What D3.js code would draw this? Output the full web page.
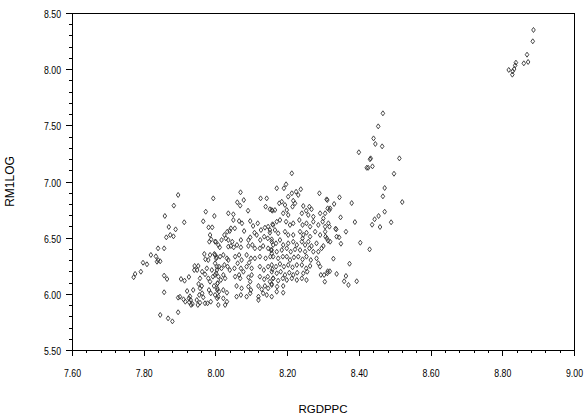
<!DOCTYPE html>
<html>
<head>
<meta charset="utf-8">
<script src="https://cdn.jsdelivr.net/npm/d3@7"></script>
<style>
html,body{margin:0;padding:0;background:#fff;}
svg{display:block;}
.tick text{font-family:"Liberation Sans",Arial,sans-serif;font-size:11px;fill:#000;}
</style>
</head>
<body>
<svg id="chart" width="585" height="420"></svg>
<script>
// RGDPPC (x) values
const rgdppc = [
8.887,8.885,8.869,8.872,8.860,8.838,8.836,8.833,8.829,8.818,8.828,
8.467,8.454,8.441,8.446,8.465,8.433,8.431,8.513,8.422,8.426,8.438,8.498,8.400,8.472,8.467,8.521,8.472,8.455,8.444,8.437,8.459,8.490,8.430,
8.310,8.331,8.346,8.320,8.313,8.380,8.306,8.349,8.318,8.337,8.335,8.364,8.389,8.307,8.314,8.338,8.345,8.350,8.404,8.329,8.374,8.313,8.319,8.338,8.364,8.359,8.371,8.394,8.305,
7.896,7.884,7.994,7.859,7.913,7.973,7.966,7.997,7.981,7.991,7.870,7.889,7.863,7.874,7.883,7.985,7.983,7.988,8.001,7.840,7.857,7.820,7.834,7.840,7.846,7.837,7.798,7.809,7.792,7.776,7.772,
7.969,7.985,7.997,8.002,7.972,7.980,7.942,7.952,7.941,7.949,7.963,7.976,7.971,8.004,7.990,8.002,7.993,7.980,7.857,7.865,7.926,7.904,7.914,7.957,7.953,7.962,7.985,7.996,8.006,8.005,
7.938,7.921,7.957,7.963,7.955,7.966,7.982,7.987,7.857,7.929,7.926,7.931,7.927,7.936,7.932,7.911,7.896,7.901,7.916,7.948,7.957,7.951,7.971,7.978,7.987,8.005,7.896,7.846,7.868,7.880,
8.070,8.061,8.079,8.069,8.091,8.036,8.050,8.050,8.066,8.074,8.126,8.143,8.140,8.152,8.159,8.097,8.118,8.105,8.127,8.138,8.147,8.159,8.043,8.054,8.033,8.040,8.080,8.025,8.029,8.017,
8.036,8.047,8.071,8.092,8.097,8.109,8.115,8.125,8.136,8.146,8.152,8.157,7.999,8.008,8.012,8.036,8.043,8.051,8.060,8.071,8.092,8.103,8.110,8.124,8.133,8.147,8.155,8.161,
7.999,8.004,8.013,8.022,8.032,8.036,8.055,8.066,8.073,8.087,8.099,8.110,8.124,8.140,8.153,8.157,7.999,8.010,8.017,8.004,8.025,8.034,8.040,8.053,8.062,8.071,8.078,8.087,8.094,8.101,
8.124,8.135,8.147,8.159,7.999,8.008,8.015,8.006,8.022,8.027,8.055,8.069,8.066,8.092,8.101,8.097,8.124,8.136,8.146,8.152,8.161,8.005,8.010,8.022,8.032,8.059,8.073,8.092,8.099,8.120,
8.129,8.138,8.147,8.157,7.999,8.008,8.022,8.032,8.059,8.071,8.087,8.097,8.120,8.133,8.143,8.008,8.027,8.120,
8.213,8.197,8.171,8.191,8.213,8.225,8.238,8.231,8.203,8.185,8.178,8.194,8.217,8.222,8.215,8.290,8.312,8.157,8.166,8.199,8.189,8.203,8.245,8.262,8.268,8.253,8.241,8.259,8.273,8.292,
8.301,8.318,8.171,8.180,8.161,8.197,8.208,8.217,8.234,8.243,8.254,8.264,8.273,8.287,8.299,8.306,8.315,8.152,8.166,8.175,8.194,8.203,8.217,8.236,8.245,8.254,8.264,8.243,8.278,8.292,
8.306,8.311,8.320,8.157,8.169,8.180,8.189,8.203,8.217,8.227,8.241,8.250,8.259,8.268,8.282,8.301,8.157,8.171,8.185,8.199,8.210,8.222,8.236,8.250,8.262,8.273,8.287,8.296,
8.161,8.175,8.188,8.199,8.208,8.219,8.231,8.243,8.254,8.266,8.282,8.287,8.157,8.169,8.180,8.191,8.203,8.215,8.227,8.241,8.253,8.264,8.292,
8.157,8.171,8.182,8.194,8.206,8.217,8.228,8.245,8.256,8.294,8.303,8.312,8.161,8.175,8.188,8.199,8.213,8.227,8.241,8.254,8.157,8.172,8.189,8.171,8.189,8.157
];
// RM1LOG (y) values, same order
const rm1log = [
8.349,8.248,8.129,8.064,8.052,8.058,8.034,8.001,7.981,7.993,7.951,
7.607,7.491,7.384,7.334,7.313,7.206,7.198,7.206,7.122,7.122,7.135,7.069,7.260,6.942,6.868,6.817,6.731,6.693,6.664,6.615,6.595,6.637,6.396,
6.841,6.800,6.859,6.761,6.761,6.808,6.717,6.681,6.598,6.574,6.580,6.553,6.639,6.509,6.473,6.509,6.503,6.446,6.455,6.313,6.268,6.201,6.201,6.177,6.159,6.112,6.079,6.112,6.108,
6.880,6.785,6.850,6.693,6.637,6.731,6.646,6.693,6.592,6.592,6.595,6.574,6.503,6.524,6.512,6.524,6.464,6.485,6.464,6.405,6.405,6.346,6.334,6.301,6.290,6.286,6.277,6.263,6.197,6.177,6.148,
6.355,6.346,6.355,6.316,6.308,6.301,6.248,6.248,6.212,6.212,6.197,6.227,6.174,6.241,6.212,6.183,6.153,6.138,6.162,6.132,6.150,6.132,6.117,6.138,6.088,6.070,6.108,6.070,6.094,6.034,
6.034,6.025,6.049,6.005,5.990,5.969,6.034,6.005,6.014,5.978,5.960,5.945,5.925,5.910,5.901,5.951,5.966,5.974,5.930,5.945,5.921,5.901,5.916,5.916,5.930,5.960,5.836,5.812,5.782,5.755,
6.904,6.815,6.835,6.785,6.740,6.717,6.708,6.657,6.648,6.628,6.850,6.850,6.776,6.753,6.740,6.648,6.628,6.604,6.568,6.589,6.598,6.619,6.583,6.583,6.553,6.559,6.559,6.524,6.494,6.479,
6.479,6.464,6.479,6.479,6.503,6.544,6.524,6.479,6.509,6.494,6.544,6.485,6.464,6.435,6.414,6.420,6.426,6.414,6.435,6.414,6.426,6.435,6.405,6.405,6.426,6.405,6.390,6.435,
6.346,6.325,6.331,6.346,6.316,6.301,6.331,6.346,6.301,6.346,6.316,6.316,6.331,6.316,6.331,6.361,6.272,6.242,6.227,6.212,6.257,6.242,6.212,6.227,6.272,6.227,6.197,6.242,6.277,6.227,
6.242,6.212,6.242,6.218,6.168,6.153,6.123,6.094,6.168,6.138,6.153,6.138,6.168,6.147,6.168,6.108,6.153,6.130,6.153,6.108,6.138,6.049,6.019,6.034,6.010,6.070,6.049,6.064,6.034,6.070,
6.040,6.070,6.049,6.088,5.990,5.975,5.960,5.930,5.975,5.990,5.975,6.005,5.975,6.005,5.990,5.901,5.901,5.945,
7.073,6.975,6.940,6.940,6.895,6.909,6.931,6.880,6.865,6.820,6.806,6.791,6.829,6.806,6.776,6.895,6.835,6.746,6.746,6.746,6.717,6.702,6.782,6.776,6.753,6.740,6.717,6.702,6.687,6.717,
6.672,6.746,6.642,6.657,6.613,6.642,6.613,6.628,6.657,6.613,6.628,6.598,6.642,6.613,6.642,6.598,6.628,6.568,6.568,6.539,6.553,6.524,6.524,6.553,6.524,6.544,6.509,6.494,6.553,6.524,
6.553,6.494,6.464,6.464,6.450,6.479,6.435,6.450,6.464,6.435,6.464,6.435,6.464,6.426,6.450,6.426,6.390,6.375,6.390,6.405,6.375,6.396,6.390,6.375,6.405,6.375,6.375,6.405,
6.331,6.316,6.331,6.331,6.301,6.325,6.331,6.307,6.331,6.301,6.316,6.272,6.257,6.242,6.266,6.242,6.257,6.236,6.257,6.257,6.227,6.248,6.242,
6.197,6.183,6.197,6.168,6.188,6.168,6.188,6.183,6.197,6.168,6.168,6.183,6.138,6.117,6.138,6.123,6.138,6.123,6.138,6.123,6.079,6.064,6.070,6.019,6.010,5.975
];
const xTicks = [7.60,7.80,8.00,8.20,8.40,8.60,8.80,9.00];
const yTicks = [5.50,6.00,6.50,7.00,7.50,8.00,8.50];
const xTitle = "RGDPPC";
const yTitle = "RM1LOG";

const svg = d3.select("#chart");
const L = 72, R = 574, T = 13, B = 350;
const x = d3.scaleLinear().domain([7.6, 9.0]).range([L, R]);
const y = d3.scaleLinear().domain([5.5, 8.5]).range([B, T]);

// frame
svg.append("rect").attr("x", L).attr("y", T).attr("width", R - L).attr("height", B - T)
  .attr("fill", "none").attr("stroke", "#000").attr("stroke-width", 1)
  .attr("shape-rendering", "crispEdges");

// minor ticks
const xMinor = d3.range(0, 36).map(i => 7.6 + i * 0.04);
const yMinor = d3.range(0, 31).map(i => 5.5 + i * 0.1);
svg.append("g").attr("transform", `translate(0,${B})`)
  .call(d3.axisBottom(x).tickValues(xMinor).tickSize(3).tickFormat(""))
  .call(g => g.select(".domain").remove())
  .attr("shape-rendering", "crispEdges");
svg.append("g").attr("transform", `translate(${L},0)`)
  .call(d3.axisLeft(y).tickValues(yMinor).tickSize(3).tickFormat(""))
  .call(g => g.select(".domain").remove())
  .attr("shape-rendering", "crispEdges");

// major ticks
const xAxis = svg.append("g").attr("transform", `translate(0,${B})`)
  .call(d3.axisBottom(x).tickValues(xTicks).tickSize(6).tickPadding(13).tickFormat(d3.format(".2f")));
xAxis.select(".domain").remove();
xAxis.selectAll("line").attr("shape-rendering", "crispEdges");
xAxis.selectAll("text").attr("textLength", 17).attr("lengthAdjust", "spacingAndGlyphs");
const yAxis = svg.append("g").attr("transform", `translate(${L},0)`)
  .call(d3.axisLeft(y).tickValues(yTicks).tickSize(6).tickPadding(5).tickFormat(d3.format(".2f")));
yAxis.select(".domain").remove();
yAxis.selectAll("line").attr("shape-rendering", "crispEdges");
yAxis.selectAll("text").attr("dy", "0.42em").attr("textLength", 17).attr("lengthAdjust", "spacingAndGlyphs");

// axis titles
svg.append("text").attr("x", (L + R) / 2).attr("y", 413).attr("text-anchor", "middle")
  .attr("font-family", "Liberation Sans, Arial, sans-serif").attr("font-size", 11.5).text(xTitle);
svg.append("text").attr("transform", `translate(14,${(T + B) / 2}) rotate(-90)`).attr("text-anchor", "middle")
  .attr("font-family", "Liberation Sans, Arial, sans-serif").attr("font-size", 12).text(yTitle);

// points
const diamond = "M0,-2.5L1.8,0L0,2.5L-1.8,0Z";
svg.append("g").selectAll("path").data(d3.range(rgdppc.length)).join("path")
  .attr("transform", i => `translate(${x(rgdppc[i])},${y(rm1log[i])})`)
  .attr("d", diamond).attr("fill", "none").attr("stroke", "#333").attr("stroke-width", 0.9);
</script>
</body>
</html>
